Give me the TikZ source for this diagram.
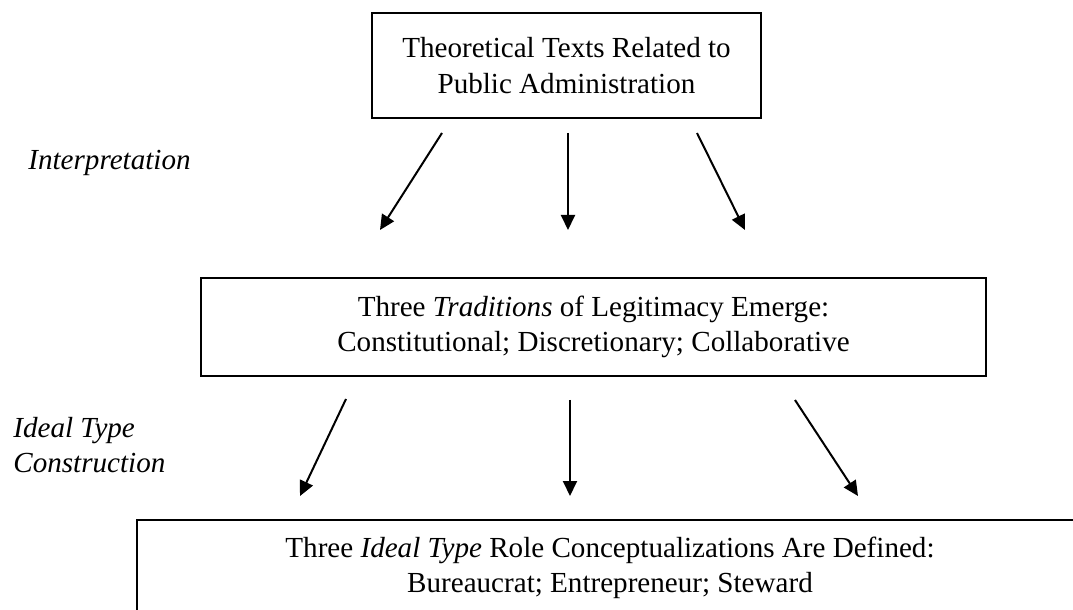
\documentclass[tikz,border=0pt]{standalone}
\usepackage{fontspec}
\setmainfont{Liberation Serif}
\usetikzlibrary{arrows.meta}

\tikzset{
  stage/.style={draw, line width=1.1pt, align=center, inner sep=0pt,
    font=\fontsize{14.55}{17.75}\selectfont},
  phase/.style={align=left, inner sep=0pt,
    font=\fontsize{14.55}{17.75}\selectfont\itshape},
  flow/.style={line width=1pt, -{Triangle[length=7.5pt,width=7pt]}}
}

\begin{document}
\begin{tikzpicture}[x=0.5pt, y=-0.5pt]
      \useasboundingbox (0,0) rectangle (1073,610);
      \clip (0,0) rectangle (1073,610);

      % the three stages
      \node[stage, minimum width=194.5pt, minimum height=52.5pt] (texts) at (566.5, 65.5)
        {Theoretical Texts Related to\\Public Administration};
      \node[stage, minimum width=392.5pt, minimum height=49pt] (trad) at (593.5, 327)
        {Three \textit{Traditions} of Legitimacy Emerge:\\Constitutional; Discretionary; Collaborative};
      \node[stage, minimum width=473pt, minimum height=48pt] (types) at (610, 568)
        {Three \textit{Ideal Type} Role Conceptualizations Are Defined:\\Bureaucrat; Entrepreneur; Steward};

      % side labels
      \node[phase, anchor=west] (interp) at (28, 163) {Interpretation};
      \node[phase, anchor=west] (ideal) at (13, 445) {Ideal Type\\Construction};

      % arrow ends
      \coordinate (a1) at (442, 133);
      \coordinate (b1) at (380, 230);
      \coordinate (a2) at (568, 133);
      \coordinate (b2) at (568, 230);
      \coordinate (a3) at (697, 133);
      \coordinate (b3) at (745, 230);
      \coordinate (c1) at (346, 399);
      \coordinate (d1) at (300, 496);
      \coordinate (c2) at (570, 400);
      \coordinate (d2) at (570, 496);
      \coordinate (c3) at (795, 400);
      \coordinate (d3) at (858, 496);

      \draw[flow] (a1) -- (b1);
      \draw[flow] (a2) -- (b2);
      \draw[flow] (a3) -- (b3);
      \draw[flow] (c1) -- (d1);
      \draw[flow] (c2) -- (d2);
      \draw[flow] (c3) -- (d3);
    \end{tikzpicture}
\end{document}
